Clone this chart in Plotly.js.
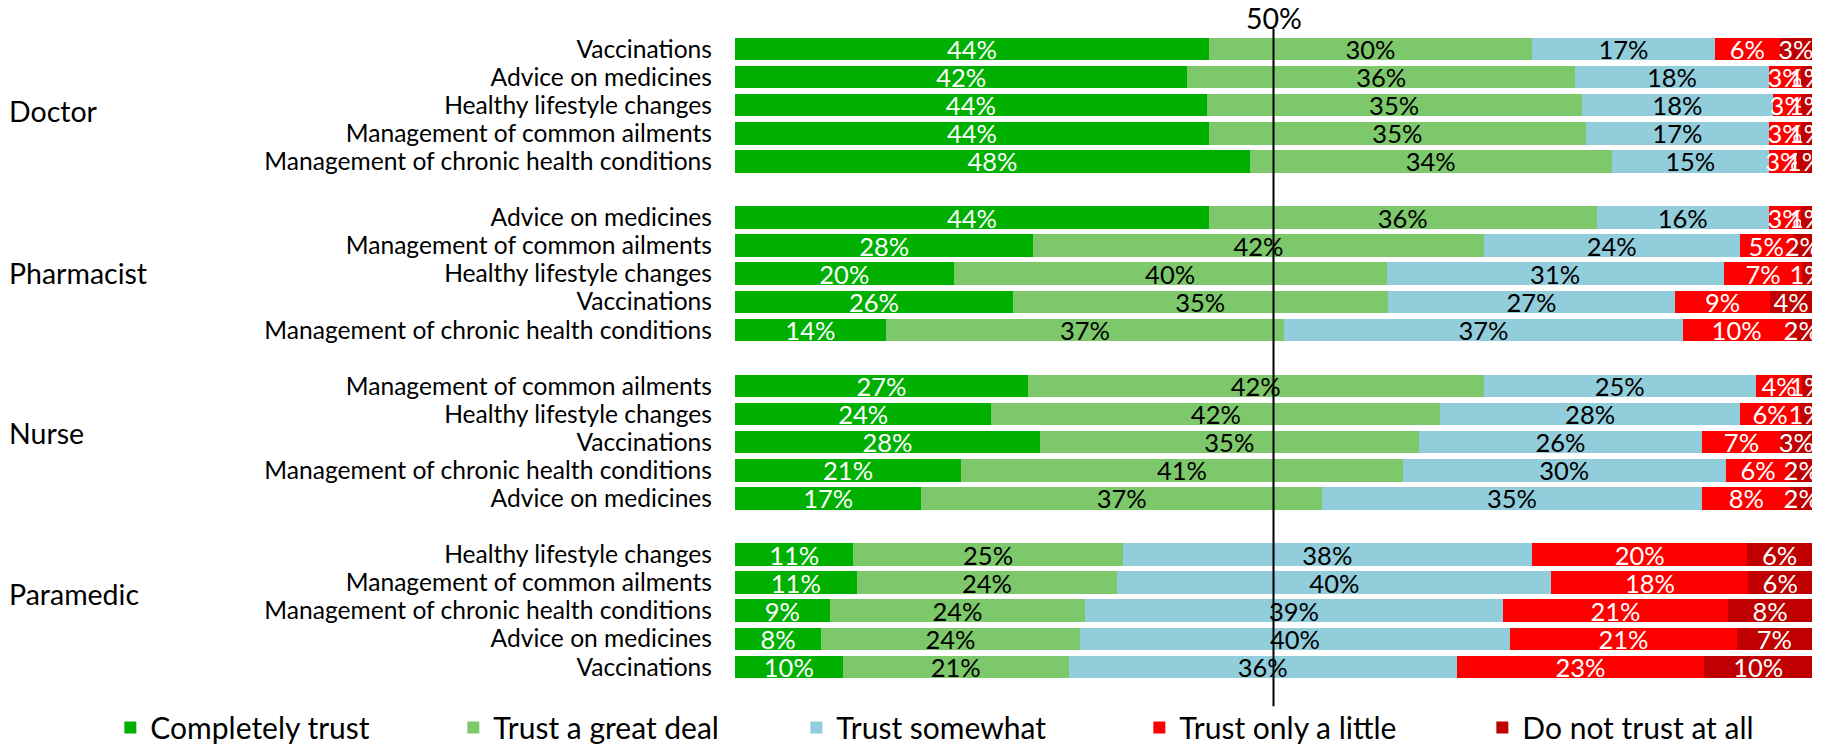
<!DOCTYPE html>
<html>
<head>
<meta charset="utf-8">
<script src="https://cdn.plot.ly/plotly-3.0.1.min.js"></script>
<style>html,body{margin:0;padding:0;background:#fff;}#chart{width:1829px;height:745px;}</style>
</head>
<body>
<div id="chart"></div>
<script>
const professions = ['Doctor', 'Pharmacist', 'Nurse', 'Paramedic'];

const doctorActivities = ['Vaccinations', 'Advice on medicines', 'Healthy lifestyle changes', 'Management of common ailments', 'Management of chronic health conditions'];
const pharmacistActivities = ['Advice on medicines', 'Management of common ailments', 'Healthy lifestyle changes', 'Vaccinations', 'Management of chronic health conditions'];
const nurseActivities = ['Management of common ailments', 'Healthy lifestyle changes', 'Vaccinations', 'Management of chronic health conditions', 'Advice on medicines'];
const paramedicActivities = ['Healthy lifestyle changes', 'Management of common ailments', 'Management of chronic health conditions', 'Advice on medicines', 'Vaccinations'];

const seriesNames = ['Completely trust', 'Trust a great deal', 'Trust somewhat', 'Trust only a little', 'Do not trust at all'];

const completelyTrust = [44, 42, 43.8, 44, 47.8, 44, 27.7, 20.3, 25.8, 14, 27.2, 23.8, 28.3, 21, 17.3, 11, 11.3, 8.8, 8, 10];
const trustGreatDeal  = [30, 36, 34.8, 35, 33.6, 36, 41.8, 40.2, 34.8, 37, 42.3, 41.7, 35.2, 41, 37.2, 25, 24.2, 23.7, 24, 21];
const trustSomewhat   = [17, 18, 17.8, 17, 14.6, 16, 23.8, 31.3, 26.7, 37, 25.3, 27.8, 26.3, 30, 35.3, 38, 40.3, 38.8, 40, 36];
const trustLittle     = [6, 3, 2.6, 3, 2.6, 3, 4.9, 7.3, 8.8, 10, 4.3, 5.6, 7.3, 6, 8.2, 20, 18.3, 20.9, 21, 23];
const notTrust        = [3, 1, 1, 1, 1.4, 1, 1.8, 0.9, 3.9, 2, 0.9, 1.1, 2.9, 2, 2.0, 6, 5.9, 7.8, 7, 10];

const midLabel = '50%';

// ---- build ----
const activityGroups = [doctorActivities, pharmacistActivities, nurseActivities, paramedicActivities];
const yPos = [];
const yText = [];
activityGroups.forEach((acts, g) => {
  acts.forEach((a, i) => { yPos.push(g * 6 + i); yText.push(a); });
});

const seriesValues = [completelyTrust, trustGreatDeal, trustSomewhat, trustLittle, notTrust];
const colors = ['#00B000', '#7DC86A', '#92CDDC', '#FF0000', '#C00000'];
const textColors = ['#ffffff', '#000000', '#000000', '#ffffff', '#ffffff'];
const FONT = 'Lato, "Open Sans", sans-serif';

const traces = seriesNames.map((name, k) => ({
  type: 'bar',
  orientation: 'h',
  name: name,
  x: seriesValues[k],
  y: yPos,
  marker: { color: colors[k], line: { width: 0 } },
  texttemplate: '%{x:.0f}%',
  textposition: 'inside',
  insidetextanchor: 'middle',
  textangle: 0,
  constraintext: 'none',
  cliponaxis: true,
  insidetextfont: { family: FONT, size: 25.5, color: textColors[k] },
  hoverinfo: 'skip'
}));

const groupY = [2.22, 7.96, 13.67, 19.4];
const annotations = professions.map((p, g) => ({
  text: p, xref: 'paper', yref: 'y', x: -0.676, y: groupY[g],
  xanchor: 'left', yanchor: 'middle', showarrow: false,
  font: { family: FONT, size: 28.5, color: '#000' }
}));
annotations.push({
  text: midLabel, xref: 'x', yref: 'paper', x: 50, y: 1, yanchor: 'middle', xanchor: 'center',
  yshift: 10, showarrow: false, font: { family: FONT, size: 28.5, color: '#000' }
});

const layout = {
  width: 1829, height: 745,
  margin: { l: 735, r: 17, t: 28, b: 36, autoexpand: false },
  paper_bgcolor: '#fff', plot_bgcolor: '#fff',
  barmode: 'stack', bargap: 0.2,
  showlegend: true,
  legend: {
    orientation: 'h', x: -0.58, xanchor: 'left', y: -0.027, yanchor: 'middle',
    entrywidth: 298, entrywidthmode: 'pixels', traceorder: 'normal',
    font: { family: FONT, size: 30, color: '#000' }, bgcolor: 'rgba(0,0,0,0)'
  },
  xaxis: { range: [0, 100], showgrid: false, zeroline: false, showticklabels: false, showline: false, fixedrange: true },
  yaxis: {
    range: [23.5, -0.75], tickmode: 'array', tickvals: yPos, ticktext: yText,
    showgrid: false, zeroline: false, showline: false, ticks: '', ticklabelstandoff: 22,
    tickfont: { family: FONT, size: 24.6, color: '#000' }, fixedrange: true
  },
  shapes: [{
    type: 'line', xref: 'x', yref: 'y', x0: 50, x1: 50, y0: -0.72, y1: 23.4,
    line: { color: '#000', width: 2 }, layer: 'above'
  }],
  annotations: annotations
};

Plotly.newPlot('chart', traces, layout, { displayModeBar: false, staticPlot: true });
</script>
</body>
</html>
